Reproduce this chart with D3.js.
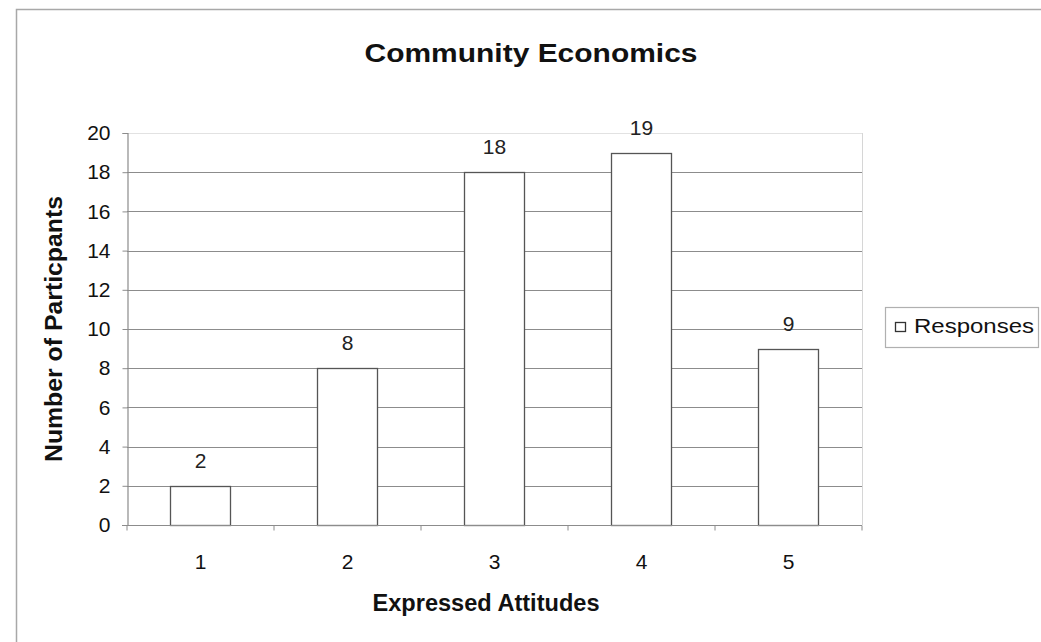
<!DOCTYPE html>
<html>
<head>
<meta charset="utf-8">
<script src="https://cdn.jsdelivr.net/npm/d3@7"></script>
<style>
  html, body { margin: 0; padding: 0; background: #fff; }
  svg { display: block; font-family: "Liberation Sans", Arial, sans-serif; }
</style>
</head>
<body>
<svg id="chart" width="1041" height="642"></svg>
<script>
// Survey responses: number of participants per attitude score
const categories = ["1", "2", "3", "4", "5"];
const responses = [2, 8, 18, 19, 9];
const yTicks = [0, 2, 4, 6, 8, 10, 12, 14, 16, 18, 20];
const seriesName = "Responses";
const titleText = "Community Economics";
const xTitle = "Expressed Attitudes";
const yTitle = "Number of Particpants";

const svg = d3.select("#chart");

// Chart area frame
svg.append("rect")
  .attr("x", 16.5).attr("y", 9.5)
  .attr("width", 1100).attr("height", 700)
  .attr("fill", "#fff")
  .attr("stroke", "#a8a8a8").attr("stroke-width", 1.5);

const plot = { left: 127, right: 862, top: 133, bottom: 525 };

const x = d3.scaleBand()
  .domain(categories)
  .range([plot.left, plot.right])
  .paddingInner(0.59)
  .paddingOuter(0.295);

const y = d3.scaleLinear()
  .domain([0, 20])
  .range([plot.bottom, plot.top]);

// Horizontal gridlines
svg.append("g")
  .selectAll("line")
  .data(yTicks.filter(d => d > 0))
  .join("line")
  .attr("x1", plot.left).attr("x2", plot.right)
  .attr("y1", d => Math.round(y(d)) + 0.5)
  .attr("y2", d => Math.round(y(d)) + 0.5)
  .attr("stroke", d => d === 20 ? "#e2e2e2" : "#8c8c8c")
  .attr("stroke-width", 1.2);

// Faint right edge of the plot area
svg.append("line")
  .attr("x1", plot.right + 0.5).attr("x2", plot.right + 0.5)
  .attr("y1", plot.top).attr("y2", plot.bottom)
  .attr("stroke", "#d6d6d6");

// Bars
svg.append("g")
  .selectAll("rect")
  .data(responses)
  .join("rect")
  .attr("x", (d, i) => Math.round(x(categories[i])) + 0.5)
  .attr("y", d => Math.round(y(d)) + 0.5)
  .attr("width", Math.round(x.bandwidth()))
  .attr("height", d => Math.round(y(0)) - Math.round(y(d)))
  .attr("fill", "#fff")
  .attr("stroke", "#555")
  .attr("stroke-width", 1.3);

// Value labels
svg.append("g")
  .selectAll("text")
  .data(responses)
  .join("text")
  .attr("x", (d, i) => x(categories[i]) + x.bandwidth() / 2)
  .attr("y", d => y(d) - 18)
  .attr("text-anchor", "middle")
  .attr("font-size", 21)
  .attr("fill", "#222")
  .text(d => d);

// Y axis
const yAxis = d3.axisLeft(y)
  .tickValues(yTicks)
  .tickSize(5)
  .tickPadding(12)
  .tickFormat(d3.format("d"));
const gy = svg.append("g")
  .attr("transform", `translate(${plot.left + 0.5},0)`)
  .call(yAxis);
gy.select(".domain").attr("stroke", "#8c8c8c").attr("stroke-width", 1.2);
gy.selectAll(".tick line").attr("stroke", "#8c8c8c");
gy.selectAll(".tick text")
  .attr("font-size", 21)
  .attr("font-family", "Liberation Sans, Arial, sans-serif")
  .attr("fill", "#111");

// X axis: ticks between categories, labels centred under each bar
const gx = svg.append("g")
  .attr("transform", `translate(0,${plot.bottom + 0.5})`);
gx.append("line")
  .attr("x1", plot.left - 5).attr("x2", plot.right)
  .attr("stroke", "#8c8c8c").attr("stroke-width", 1.2);
const step = x.step();
gx.selectAll("line.tk")
  .data(d3.range(categories.length + 1))
  .join("line")
  .attr("class", "tk")
  .attr("x1", i => plot.left + i * step).attr("x2", i => plot.left + i * step)
  .attr("y1", 0).attr("y2", 5)
  .attr("stroke", "#8c8c8c");
gx.selectAll("text")
  .data(categories)
  .join("text")
  .attr("x", d => x(d) + x.bandwidth() / 2)
  .attr("y", 43)
  .attr("text-anchor", "middle")
  .attr("font-size", 21)
  .attr("fill", "#111")
  .text(d => d);

// Titles
svg.append("text")
  .attr("x", 531).attr("y", 62)
  .attr("text-anchor", "middle")
  .attr("font-size", 26)
  .attr("font-weight", "bold")
  .attr("fill", "#111")
  .attr("textLength", 333)
  .attr("lengthAdjust", "spacingAndGlyphs")
  .text(titleText);

svg.append("text")
  .attr("x", 486).attr("y", 611)
  .attr("text-anchor", "middle")
  .attr("font-size", 23)
  .attr("font-weight", "bold")
  .attr("fill", "#111")
  .attr("textLength", 227)
  .attr("lengthAdjust", "spacingAndGlyphs")
  .text(xTitle);

svg.append("text")
  .attr("transform", "translate(62,329) rotate(-90)")
  .attr("text-anchor", "middle")
  .attr("font-size", 23)
  .attr("font-weight", "bold")
  .attr("fill", "#111")
  .attr("textLength", 266)
  .attr("lengthAdjust", "spacingAndGlyphs")
  .text(yTitle);

// Legend
const lg = svg.append("g");
lg.append("rect")
  .attr("x", 885.5).attr("y", 307.5)
  .attr("width", 153).attr("height", 40)
  .attr("fill", "#fff")
  .attr("stroke", "#b0b0b0").attr("stroke-width", 1.2);
lg.append("rect")
  .attr("x", 895.5).attr("y", 322.5)
  .attr("width", 10).attr("height", 9)
  .attr("fill", "#fff")
  .attr("stroke", "#333").attr("stroke-width", 1.3);
lg.append("text")
  .attr("x", 914).attr("y", 333)
  .attr("font-size", 21)
  .attr("fill", "#111")
  .attr("textLength", 120)
  .attr("lengthAdjust", "spacingAndGlyphs")
  .text(seriesName);
</script>
</body>
</html>
